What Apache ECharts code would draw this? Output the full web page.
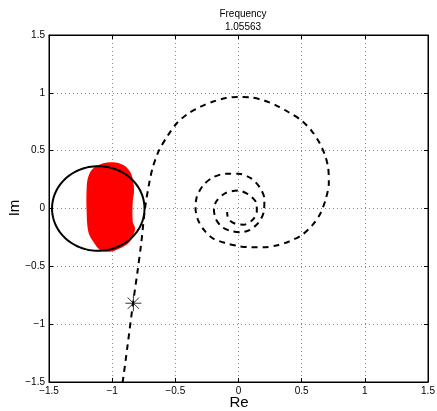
<!DOCTYPE html>
<html>
<head>
<meta charset="utf-8">
<script src="https://cdn.jsdelivr.net/npm/echarts@6/dist/echarts.min.js"></script>
<style>
html,body{margin:0;padding:0;background:#fff;}
#chart{width:437px;height:411px;}
</style>
</head>
<body>
<div id="chart"></div>
<script>
// Nyquist curve (dashed)
const curveRe = [-0.935,-0.917,-0.88,-0.835,-0.80,-0.77,-0.74,-0.71,-0.68,-0.63,-0.56,-0.49,-0.40,-0.30,-0.20,-0.10,0.00,0.10,0.20,0.30,0.40,0.50,0.58,0.64,0.685,0.71,0.715,0.69,0.645,0.58,0.50,0.40,0.30,0.20,0.10,0.00,-0.10,-0.20,-0.27,-0.32,-0.34,-0.33,-0.28,-0.20,-0.10,0.00,0.10,0.17,0.205,0.20,0.16,0.09,0.02,-0.06,-0.13,-0.18,-0.195,-0.17,-0.10,0.00,0.08,0.14,0.145,0.11,0.04,-0.03,-0.08,-0.09];
const curveIm = [-1.60,-1.50,-1.20,-0.82,-0.55,-0.30,0.00,0.20,0.35,0.50,0.63,0.735,0.82,0.88,0.925,0.955,0.965,0.96,0.935,0.89,0.83,0.76,0.67,0.57,0.46,0.35,0.22,0.08,-0.05,-0.15,-0.23,-0.285,-0.32,-0.335,-0.335,-0.325,-0.30,-0.26,-0.19,-0.10,0.00,0.10,0.20,0.27,0.30,0.30,0.26,0.18,0.08,-0.03,-0.12,-0.185,-0.205,-0.195,-0.16,-0.09,0.00,0.07,0.135,0.155,0.12,0.05,-0.03,-0.10,-0.14,-0.13,-0.09,-0.03];

// Red uncertainty region outline
const blobRe = [-1.149,-1.070,-0.991,-0.912,-0.859,-0.833,-0.827,-0.837,-0.837,-0.819,-0.837,-0.872,-0.938,-1.017,-1.096,-1.149,-1.189,-1.202,-1.202,-1.189];
const blobIm = [0.348,0.391,0.400,0.376,0.319,0.232,0.146,0.059,-0.114,-0.171,-0.243,-0.300,-0.344,-0.373,-0.358,-0.287,-0.200,-0.027,0.175,0.275];

// Black circle
const circleCenter = [-1.11, 0.0];
const circleRadius = 0.366;

// Current frequency point (asterisk)
const markerPoint = [-0.832, -0.819];

const titleLines = ['Frequency', '1.05563'];
const xAxisName = 'Re';
const yAxisName = 'Im';
const axisMin = -1.5, axisMax = 1.5, axisStep = 0.5;

const fmt = v => String(v).replace('-', '\u2212');
const font = 'Liberation Sans, Arial, Helvetica, sans-serif';

const chart = echarts.init(document.getElementById('chart'), null, {renderer: 'canvas'});

const curveData = curveRe.map((r, i) => [r, curveIm[i]]);

const baseAxis = {
  min: axisMin, max: axisMax, interval: axisStep, type: 'value'
};
const frameLine = {show: true, onZero: false, lineStyle: {color: '#000', width: 1}};
const tick = {show: true, inside: true, length: 4, lineStyle: {color: '#000'}};
const grid = {show: true, lineStyle: {type: [1, 3], color: '#888', width: 1}};

const option = {
  animation: false,
  backgroundColor: '#fff',
  title: {
    text: titleLines.join('\n'),
    left: 238, top: 3, textAlign: 'center',
    textStyle: {fontFamily: font, fontSize: 10, fontWeight: 'normal', color: '#000', lineHeight: 13}
  },
  graphic: [
    {type: 'text', x: 239, y: 403, style: {text: xAxisName, font: '15px ' + font, fill: '#000', textAlign: 'center', textVerticalAlign: 'middle'}},
    {type: 'text', x: 15, y: 208, rotation: Math.PI / 2, style: {text: yAxisName, font: '15px ' + font, fill: '#000', textAlign: 'center', textVerticalAlign: 'middle'}}
  ],
  grid: {left: 49, right: 9, top: 35, bottom: 29, containLabel: false, outerBoundsMode: 'none',
         show: true, borderColor: '#000', borderWidth: 1, backgroundColor: '#fff'},
  xAxis: [
    Object.assign({}, baseAxis, {
      position: 'bottom',
      axisLine: frameLine, axisTick: tick,
      axisLabel: {formatter: fmt, fontFamily: font, fontSize: 10, color: '#000', margin: 4},
      splitLine: grid
    }),
    Object.assign({}, baseAxis, {
      position: 'top',
      axisLine: frameLine, axisTick: tick,
      axisLabel: {show: false},
      splitLine: {show: false}
    })
  ],
  yAxis: [
    Object.assign({}, baseAxis, {
      position: 'left',
      axisLine: frameLine, axisTick: tick,
      axisLabel: {formatter: fmt, fontFamily: font, fontSize: 10, color: '#000', margin: 4},
      splitLine: grid
    }),
    Object.assign({}, baseAxis, {
      position: 'right',
      axisLine: frameLine, axisTick: tick,
      axisLabel: {show: false},
      splitLine: {show: false}
    })
  ],
  series: [
    {
      type: 'custom',
      xAxisIndex: 0, yAxisIndex: 0,
      data: [[blobRe[0], blobIm[0]]],
      clip: true,
      z: 2,
      renderItem: function (params, api) {
        const pts = blobRe.map((r, i) => api.coord([r, blobIm[i]]));
        return {type: 'polygon', shape: {points: pts, smooth: 0.35}, style: {fill: '#ff0000', stroke: null}};
      }
    },
    {
      type: 'custom',
      xAxisIndex: 0, yAxisIndex: 0,
      data: [circleCenter],
      clip: true,
      z: 3,
      renderItem: function (params, api) {
        const pts = [];
        for (let k = 0; k <= 120; k++) {
          const a = k / 120 * Math.PI * 2;
          pts.push(api.coord([circleCenter[0] + circleRadius * Math.cos(a), circleCenter[1] + circleRadius * Math.sin(a)]));
        }
        return {type: 'polyline', shape: {points: pts}, style: {fill: null, stroke: '#000', lineWidth: 2}};
      }
    },
    {
      type: 'line',
      xAxisIndex: 0, yAxisIndex: 0,
      data: curveData,
      showSymbol: false,
      symbol: 'none',
      clip: true,
      smooth: 0.3,
      z: 4,
      lineStyle: {color: '#000', width: 2, type: [6, 5]}
    },
    {
      type: 'scatter',
      xAxisIndex: 0, yAxisIndex: 0,
      data: [markerPoint],
      symbol: 'path://M8,0L8,16M0,8L16,8M2.3,2.3L13.7,13.7M2.3,13.7L13.7,2.3',
      symbolSize: 16,
      z: 5,
      itemStyle: {color: 'none', borderColor: '#000', borderWidth: 1}
    }
  ]
};
chart.setOption(option);
</script>
</body>
</html>
